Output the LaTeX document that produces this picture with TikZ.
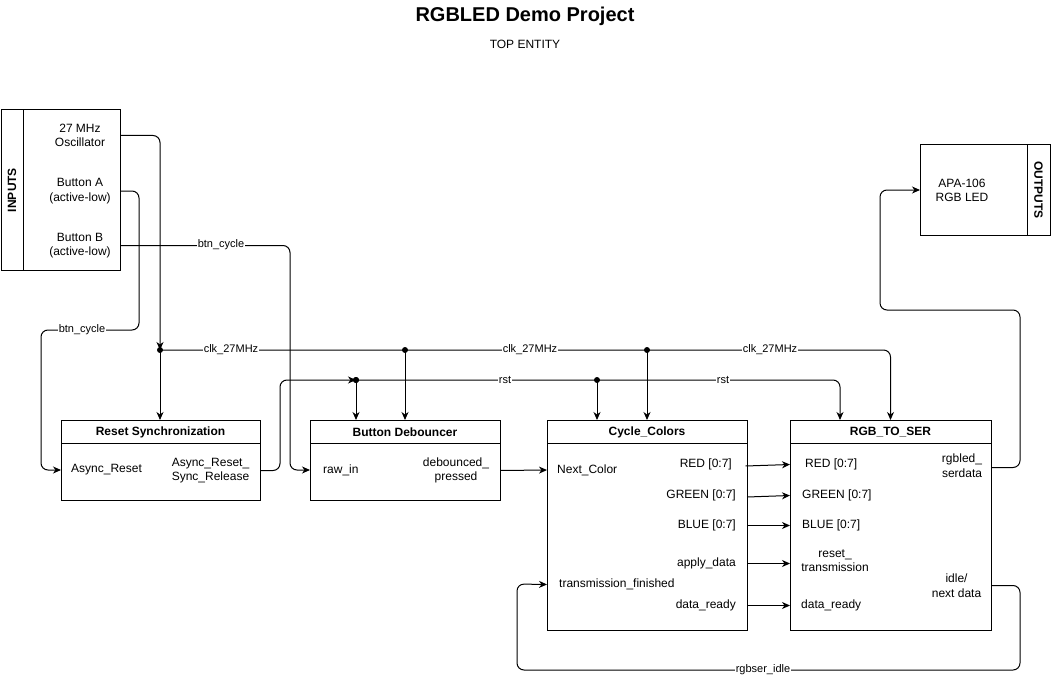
\documentclass[tikz,border=0pt]{standalone}
\usepackage{fontspec}
\setmainfont{Liberation Sans}
\usetikzlibrary{arrows.meta,calc}
\begin{document}
\begin{tikzpicture}[x=1pt,y=-1pt,
  box/.style={draw, line width=1pt, anchor=north west, inner sep=0pt, outer sep=0pt},
  txt/.style={font=\fontsize{12}{14.5}\selectfont, align=center, inner sep=0pt},
  ttl/.style={font=\fontsize{12}{14.5}\selectfont\bfseries, inner sep=0pt},
  lbl/.style={font=\fontsize{11}{13}\selectfont, fill=white, inner sep=1pt},
  arr/.style={-{Stealth[length=8pt,width=7pt,inset=2.5pt]}, line width=1pt},
  wire/.style={line width=1pt, rounded corners=7pt},
  dot/.style={circle, fill, inner sep=0pt, minimum size=6pt}]
\useasboundingbox (0,0) rectangle (1051,679);

% title
\node[font=\fontsize{20}{24}\selectfont\bfseries, inner sep=0pt] (title) at (525,16) {RGBLED Demo Project};
\node[font=\fontsize{12}{14}\selectfont, inner sep=0pt] (sub) at (525,44) {TOP ENTITY};

% inputs
\node[box, minimum width=119pt, minimum height=160pt] (inputs) at (1,110) {};
\draw[line width=1pt] (23,110) -- (23,270);
\node[ttl, rotate=90] (inlbl) at (12,190) {INPUTS};
\node[txt] (osc) at (80,135.5) {27 MHz\\Oscillator};
\node[txt] (btna) at (80,191) {Button A\\(active-low)};
\node[txt] (btnb) at (80,245.5) {Button B\\(active-low)};

% outputs
\node[box, minimum width=130pt, minimum height=90pt] (outputs) at (920,145) {};
\draw[line width=1pt] (1027,145) -- (1027,235);
\node[ttl, rotate=-90] (outlbl) at (1038.5,190) {OUTPUTS};
\node[txt] (led) at (962,190.5) {APA-106\\RGB LED};

% reset synchronization
\node[box, minimum width=199pt, minimum height=80pt] (rs) at (61,420) {};
\draw[line width=1pt] (61,443) -- (260,443);
\node[ttl] (rstitle) at (160.5,432) {Reset Synchronization};
\node[txt, anchor=west] (asyncin) at (71,470) {Async\_Reset};
\node[txt] (asyncout) at (210.5,470.5) {Async\_Reset\_\\Sync\_Release};

% button debouncer
\node[box, minimum width=190pt, minimum height=80pt] (bd) at (310,420) {};
\draw[line width=1pt] (310,443) -- (500,443);
\node[ttl] (bdtitle) at (405,432) {Button Debouncer};
\node[txt, anchor=west] (rawin) at (323,470) {raw\_in};
\node[txt] (debout) at (456,470.5) {debounced\_\\pressed};

% cycle colors
\node[box, minimum width=200pt, minimum height=210pt] (cc) at (547,420) {};
\draw[line width=1pt] (547,443) -- (747,443);
\node[ttl] (cctitle) at (647,432) {Cycle\_Colors};
\node[txt, anchor=west] (nextc) at (557,470) {Next\_Color};
\node[txt, anchor=east] (ccred) at (732,464.5) {RED [0:7]};
\node[txt, anchor=east] (ccgreen) at (736,495.5) {GREEN [0:7]};
\node[txt, anchor=east] (ccblue) at (736,525.5) {BLUE [0:7]};
\node[txt, anchor=east] (ccapply) at (736,563.5) {apply\_data};
\node[txt, anchor=west] (transf) at (559,584.5) {transmission\_finished};
\node[txt, anchor=east] (ccready) at (736,605.5) {data\_ready};

% rgb to ser
\node[box, minimum width=201pt, minimum height=210pt] (rts) at (790,420) {};
\draw[line width=1pt] (790,443) -- (991,443);
\node[ttl] (rtstitle) at (890.5,432) {RGB\_TO\_SER};
\node[txt, anchor=west] (rtsred) at (805,464.5) {RED [0:7]};
\node[txt, anchor=west] (rtsgreen) at (802,495.5) {GREEN [0:7]};
\node[txt, anchor=west] (rtsblue) at (802,525.5) {BLUE [0:7]};
\node[txt] (rtsreset) at (835,560.5) {reset\_\\transmission};
\node[txt, anchor=west] (rtsready) at (801,605.5) {data\_ready};
\node[txt] (rgbout) at (962,465.5) {rgbled\_\\serdata};
\node[txt] (idle) at (956.5,585.5) {idle/\\next data};

% junctions
\coordinate (j1) at (160,350);
\node[dot] (j2) at (bd.north |- j1) {};
\node[dot] (j3) at (cc.north |- j1) {};
\node[dot] (r1) at (356,380) {};
\node[dot] (r2) at (597,380) {};
\coordinate (rtsrst) at (840,420);

% clock
\draw[wire, arr] (inputs.east |- osc) -| (j1);
\node[dot] (j1d) at (j1) {};
\draw[arr] (j1) -- (j1 |- rs.north);
\draw[wire, arr] (j1) -| (rts.north);
\draw[arr] (j2.center) -- (bd.north);
\draw[arr] (j3.center) -- (cc.north);
\node[lbl] (clk1) at (231,350) {clk\_27MHz};
\node[lbl] (clk2) at (530,350) {clk\_27MHz};
\node[lbl] (clk3) at (770,350) {clk\_27MHz};

% reset
\draw[wire, arr] (rs.east |- asyncout) -- ($(rs.east |- asyncout)+(20,0)$) |- (r1.center);
\node[dot] at (r1) {};
\draw[arr] (r1.center) -- (r1 |- bd.north);
\draw[wire, arr] (r1.center) -| (rtsrst);
\draw[arr] (r2.center) -- (r2 |- cc.north);
\node[lbl] (rst1) at (505,380) {rst};
\node[lbl] (rst2) at (723,380) {rst};

% button A
\draw[wire, arr] (inputs.east |- btna) -| (139,330) -| (41,470) -- (rs.west |- asyncin);
\node[lbl] (bc1) at (82,330) {btn\_cycle};

% button B
\draw[wire, arr] (inputs.east |- btnb) -| (290,470) -- (bd.west |- rawin);
\node[lbl] (bc2) at (221,245) {btn\_cycle};

% debouncer to cycle
\draw[arr] (bd.east |- debout) -- (cc.west |- nextc);

% color buses
\draw[arr] ($(cc.east |- ccred)+(-1.5,1.5)$) -- (rts.west |- rtsred);
\draw[arr] ($(cc.east |- ccgreen)+(0,1.5)$) -- (rts.west |- rtsgreen);
\draw[arr] (cc.east |- ccblue) -- (rts.west |- rtsblue);
\draw[arr] (cc.east |- ccapply) -- (rts.west |- ccapply);
\draw[arr] (cc.east |- ccready) -- (rts.west |- ccready);

% serial data out
\draw[wire, arr] ($(rts.east |- rgbout)+(0,2)$) -| (1020,310) -| (880,190) -- (outputs.west);

% idle feedback
\draw[wire, arr] (rts.east |- idle) -| (1020,670) -| (517,584) -- (cc.west |- transf);
\node[lbl] (idlelbl) at (763,670) {rgbser\_idle};
\end{tikzpicture}
\end{document}
